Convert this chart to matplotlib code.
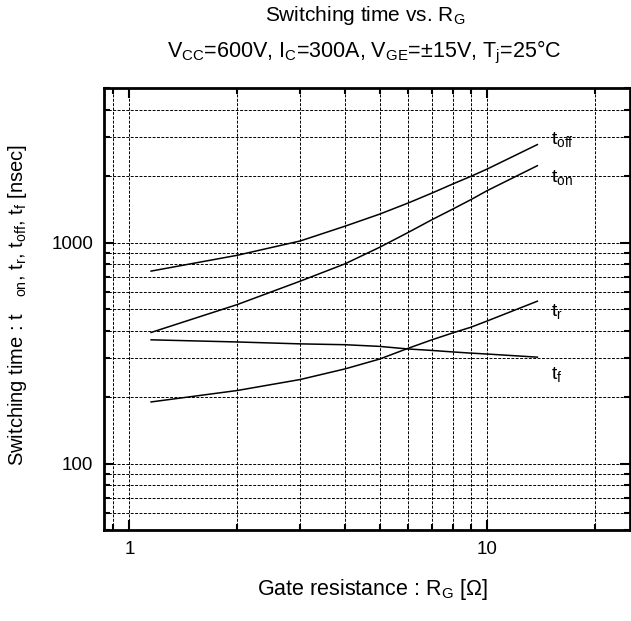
import matplotlib
matplotlib.use("Agg")
import matplotlib.pyplot as plt
from matplotlib.ticker import LogLocator, FixedLocator, NullFormatter, FixedFormatter

plt.rcParams['font.family'] = ['Liberation Sans', 'DejaVu Sans']
plt.rcParams['mathtext.fontset'] = 'custom'
plt.rcParams['mathtext.rm'] = 'Liberation Sans'
plt.rcParams['mathtext.it'] = 'Liberation Sans'
plt.rcParams['mathtext.default'] = 'rm'

# gate resistance [ohm]
rg = [1.15, 2, 3, 4, 5, 6, 7, 8, 9, 10, 13.8]

# switching times [nsec]
t_off = [743, 876, 1017, 1186, 1345, 1509, 1675, 1841, 1995, 2154, 2778]
t_on = [392, 524, 669, 801, 952, 1110, 1269, 1417, 1565, 1720, 2229]
t_r = [190, 214, 240, 268, 297, 332, 363, 390, 414, 442, 543]
t_f = [363, 355, 348, 345, 339, 330, 325, 320, 316, 313, 303]

curve_labels = ["t$_{off}$", "t$_{on}$", "t$_r$", "t$_f$"]
label_y = [2920, 1980, 487, 254]

fig = plt.figure(figsize=(6.31, 6.21), dpi=100)
ax = fig.add_axes([0.165, 0.1465, 0.833, 0.7115])

for ys in (t_off, t_on, t_r, t_f):
    ax.plot(rg, ys, color="black", lw=1.1)

for lab, ly in zip(curve_labels, label_y):
    ax.text(15.1, ly, lab, fontsize=14, ha="left", va="center")

ax.set_xscale("log")
ax.set_yscale("log")
ax.set_xlim(0.85, 25)
ax.set_ylim(50, 5000)

ax.xaxis.set_major_locator(FixedLocator([1, 10]))
ax.xaxis.set_major_formatter(FixedFormatter(["1", "10"]))
ax.xaxis.set_minor_locator(LogLocator(base=10, subs=range(2, 10), numticks=20))
ax.xaxis.set_minor_formatter(NullFormatter())
ax.yaxis.set_major_locator(FixedLocator([100, 1000]))
ax.yaxis.set_major_formatter(FixedFormatter(["100", "1000"]))
ax.yaxis.set_minor_locator(LogLocator(base=10, subs=range(2, 10), numticks=20))
ax.yaxis.set_minor_formatter(NullFormatter())

ax.grid(True, which="both", color="black", linestyle=(0, (3, 1.5)), lw=0.7)
ax.tick_params(which="both", direction="in", top=True, right=True, colors="black",
               labelsize=13.5, width=1.5)
ax.tick_params(which="major", length=7, pad=8)
ax.tick_params(which="minor", length=4.5)
for s in ax.spines.values():
    s.set_linewidth(2.0)

fig.text(0.578, 0.966, "Switching time vs. R$_G$", ha="center", va="baseline", fontsize=15)
fig.text(0.578, 0.908, "V$_{CC}$=600V, I$_C$=300A, V$_{GE}$=±15V, T$_j$=25°C",
         ha="center", va="baseline", fontsize=15.5)
fig.text(0.591, 0.042, "Gate resistance : R$_G$ [Ω]", ha="center", va="baseline",
         fontsize=15.5)
fig.text(0.027, 0.509, "Switching time : t$\\ \\ \\ _{on}$, t$_r$, t$_{off}$, t$_f$ [nsec]",
         ha="center", va="center", rotation=90, fontsize=14.5)

fig.savefig("out.png", dpi=100)
plt.close(fig)
